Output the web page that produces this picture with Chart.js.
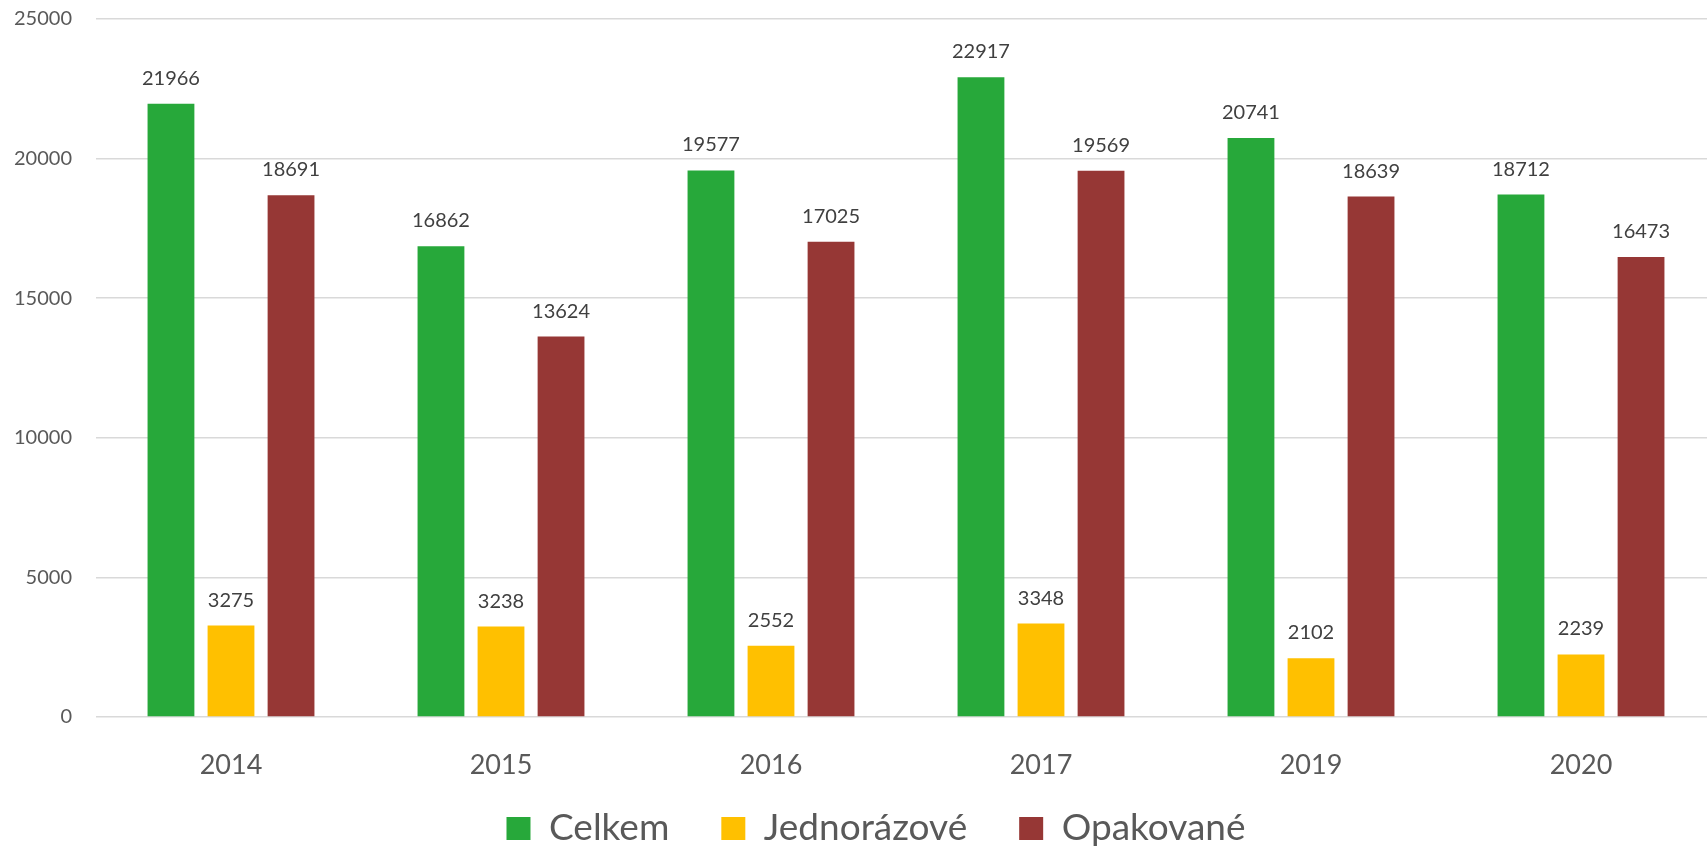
<!DOCTYPE html>
<html>
<head>
<meta charset="utf-8">
<script src="https://cdn.jsdelivr.net/npm/chart.js@4"></script>
<style>
    body { margin: 0; overflow: hidden; background: #fff; }
    canvas { display: block; }
</style>
</head>
<body>
<canvas id="chart" width="1716" height="850"></canvas>
<script>
const years = ['2014', '2015', '2016', '2017', '2019', '2020'];
const celkem = [21966, 16862, 19577, 22917, 20741, 18712];
const jednorazove = [3275, 3238, 2552, 3348, 2102, 2239];
const opakovane = [18691, 13624, 17025, 19569, 18639, 16473];
const seriesNames = ['Celkem', 'Jednorázové', 'Opakované'];

const fontFamily = 'Lato, "Open Sans", sans-serif';

// draws the value above every bar
const valueLabels = {
    id: 'valueLabels',
    afterDatasetsDraw(chart) {
        let ctx = chart.ctx;
        ctx.save();
        ctx.font = '20px ' + fontFamily;
        ctx.fillStyle = '#404040';
        ctx.textAlign = 'center';
        ctx.textBaseline = 'alphabetic';
        chart.data.datasets.forEach((ds, i) => {
            let meta = chart.getDatasetMeta(i);
            meta.data.forEach((bar, j) => {
                ctx.fillText(ds.data[j], bar.x, bar.y - 19);
            });
        });
        ctx.restore();
    }
};

// legend keeps wide gaps between items but a fixed height,
// and sits a little right of centre like the original
const legendHeight = {
    id: 'legendHeight',
    beforeLayout(chart) {
        let lg = chart.legend;
        if (lg && !lg._fixed) {
            let fit = lg.fit.bind(lg);
            lg.fit = function () {
                fit();
                this.height = 92;
            };
            let draw = lg.draw.bind(lg);
            lg.draw = function () {
                this.ctx.save();
                this.ctx.translate(18, 0);
                draw();
                this.ctx.restore();
            };
            lg._fixed = true;
        }
    }
};

let ctx = document.getElementById('chart').getContext('2d');
let myChart = new Chart(ctx, {
    type: 'bar',
    data: {
        labels: years,
        datasets: [{
            label: seriesNames[0],
            data: celkem,
            backgroundColor: '#27a83a'
        }, {
            label: seriesNames[1],
            data: jednorazove,
            backgroundColor: '#ffc000'
        }, {
            label: seriesNames[2],
            data: opakovane,
            backgroundColor: '#963735'
        }]
    },
    options: {
        responsive: false,
        animation: false,
        categoryPercentage: 0.667,
        barPercentage: 0.78,
        layout: {
            padding: 0
        },
        scales: {
            y: {
                min: 0,
                max: 25000,
                ticks: {
                    stepSize: 5000,
                    padding: 24,
                    color: '#595959',
                    font: { family: fontFamily, size: 20 },
                    callback: v => String(v)
                },
                grid: { color: '#d9d9d9', lineWidth: 1.5, drawTicks: false },
                border: { display: false },
                afterFit(scale) {
                    scale.width = 96;
                    scale.paddingTop = 19;
                    scale.paddingBottom = 0;
                }
            },
            x: {
                ticks: {
                    padding: 24,
                    color: '#595959',
                    font: { family: fontFamily, size: 27 }
                },
                grid: { display: false },
                border: { display: false },
                afterFit(scale) {
                    scale.height = 41;
                    // labels hang below the short box, so do not clip them
                    scale._computeLabelArea = () => undefined;
                }
            }
        },
        plugins: {
            legend: {
                position: 'bottom',
                labels: {
                    boxWidth: 24,
                    boxHeight: 23,
                    padding: 52,
                    color: '#595959',
                    font: { family: fontFamily, size: 37 }
                }
            },
            tooltip: { enabled: false }
        }
    },
    plugins: [valueLabels, legendHeight]
});
</script>
</body>
</html>
